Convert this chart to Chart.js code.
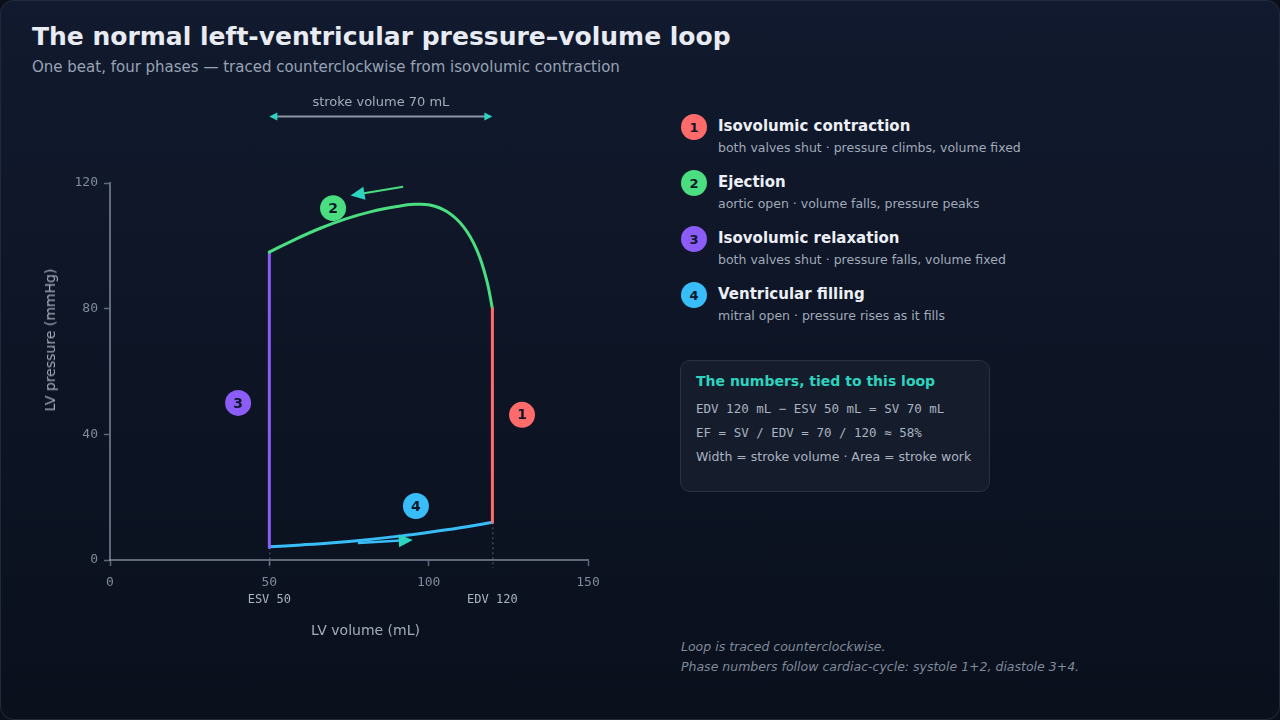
<!DOCTYPE html>
<html>
<head>
<meta charset="utf-8">
<script src="https://cdn.jsdelivr.net/npm/chart.js@4/dist/chart.umd.min.js"></script>
<style>
  html, body { margin: 0; padding: 0; }
  body {
    width: 1280px; height: 720px; overflow: hidden;
    background: #0a0f1a;
    font-family: "DejaVu Sans", sans-serif;
  }
  .panel {
    position: absolute; left: 0; top: 0; width: 1280px; height: 720px;
    box-shadow: inset 0 0 0 1px #1f2a3b; border-radius: 14px;
    background: linear-gradient(180deg, #111a2e 0%, #0d1424 55%, #0a101c 100%);
    overflow: hidden;
  }
  h1 { position: absolute; left: 32px; top: 22px; margin: 0; font-size: 25px; font-weight: bold; color: #e8ebf2; }
  .sub { position: absolute; left: 32px; top: 58px; font-size: 15px; color: #98a3b4; }
  #wrap { position: absolute; left: 0; top: 0; width: 640px; height: 720px; }
  .axt { position: absolute; font-size: 14px; color: #a3acb9; white-space: nowrap; }
  .legend { position: absolute; left: 681px; top: 113px; }
  .item { position: relative; height: 56px; }
  .dot { position: absolute; left: 0; top: 1px; width: 26px; height: 26px; border-radius: 50%;
         color: #0f172a; font-weight: bold; font-size: 13px; text-align: center; line-height: 27px; }
  .it { position: absolute; left: 37px; top: 4px; font-size: 15px; font-weight: bold; color: #eceff5; white-space: nowrap; }
  .is { position: absolute; left: 37px; top: 27px; font-size: 12.5px; color: #a0aab9; white-space: nowrap; }
  .box { position: absolute; left: 680px; top: 360px; width: 308px; height: 130px;
         border: 1px solid #283243; border-radius: 10px; background: #151c2b; }
  .bh { position: absolute; left: 15px; top: 12px; font-size: 14px; font-weight: bold; color: #2dd4bf; white-space: nowrap; }
  .bl { position: absolute; left: 15px; font-size: 12.5px; color: #aab3c1; white-space: nowrap; }
  .mono { font-family: "DejaVu Sans Mono", monospace; }
  .foot { position: absolute; left: 681px; font-size: 12.5px; font-style: italic; color: #7f8a9b; white-space: nowrap; }
</style>
</head>
<body>
<div class="panel">
  <h1>The normal left-ventricular pressure–volume loop</h1>
  <div class="sub">One beat, four phases — traced counterclockwise from isovolumic contraction</div>

  <div id="wrap"><canvas id="chart" width="640" height="720"></canvas></div>
  <div class="axt" style="left:311px; top:622px;">LV volume (mL)</div>
  <div class="axt" style="left:50px; top:340px; transform: translate(-50%,-50%) rotate(-90deg);">LV pressure (mmHg)</div>

  <div class="legend" id="legend"></div>

  <div class="box">
    <div class="bh">The numbers, tied to this loop</div>
    <div class="bl mono" style="top:40px;">EDV 120 mL − ESV 50 mL = SV 70 mL</div>
    <div class="bl mono" style="top:64px;">EF = SV / EDV = 70 / 120 ≈ 58%</div>
    <div class="bl" style="top:88px;">Width = stroke volume · Area = stroke work</div>
  </div>

  <div class="foot" style="top:639px;">Loop is traced counterclockwise.</div>
  <div class="foot" style="top:659px;">Phase numbers follow cardiac-cycle: systole 1+2, diastole 3+4.</div>
</div>

<script>
  // axis ticks
  const volumeTicks = [0, 50, 100, 150];
  const pressureTicks = [0, 40, 80, 120];

  // phase colours
  const phaseColors = ['#ff6b6b', '#4ade80', '#8b5cf6', '#38bdf8'];
  const arrowHead = '#2dd4bf';

  // phase 1: isovolumic contraction (volume fixed at EDV)
  const contractionVol = [120, 120];
  const contractionP = [12, 80];
  // phase 2: ejection
  const ejectionVol = [50, 58, 66, 74, 82, 90, 95.5, 100.4, 105.7, 110.9, 115.1, 118.2, 120];
  const ejectionP = [98, 102, 105.6, 108.6, 110.9, 112.5, 113.2, 113.0, 110.9, 106.1, 98.7, 89.1, 80];
  // phase 3: isovolumic relaxation (volume fixed at ESV)
  const relaxationVol = [50, 50];
  const relaxationP = [98, 4];
  // phase 4: filling
  const fillingVol = [50, 60, 70, 80, 91, 102, 112, 120];
  const fillingP = [4.2, 4.8, 5.5, 6.4, 7.6, 9.1, 10.6, 12];

  // numbered badges
  const badgeLabels = ['1', '2', '3', '4'];
  const badgeVol = [129.3, 70, 40.2, 96];
  const badgeP = [46.2, 112, 50, 17.2];

  // direction arrows [fromVol, fromP, toVol, toP]
  const ejectionArrow = [92, 118.8, 75.5, 116];
  const fillingArrow = [77.8, 5.4, 95, 6.4];

  // reference marks
  const esv = 50, edv = 120;
  const esvLabel = 'ESV 50', edvLabel = 'EDV 120';
  const strokeLabel = 'stroke volume 70 mL';
  const strokeArrowP = 141.3;

  // legend text
  const legendTitles = ['Isovolumic contraction', 'Ejection', 'Isovolumic relaxation', 'Ventricular filling'];
  const legendNotes = [
    'both valves shut · pressure climbs, volume fixed',
    'aortic open · volume falls, pressure peaks',
    'both valves shut · pressure falls, volume fixed',
    'mitral open · pressure rises as it fills'
  ];

  const legend = document.getElementById('legend');
  legendTitles.forEach((t, i) => {
    const div = document.createElement('div');
    div.className = 'item';
    div.innerHTML = '<div class="dot" style="background:' + phaseColors[i] + '">' + badgeLabels[i] + '</div>' +
      '<div class="it">' + t + '</div><div class="is">' + legendNotes[i] + '</div>';
    legend.appendChild(div);
  });

  const pts = (xs, ys) => xs.map((x, i) => ({ x: x, y: ys[i] }));

  function lineSet(xs, ys, color, tension) {
    return {
      type: 'line',
      data: pts(xs, ys),
      borderColor: color,
      borderWidth: 3,
      pointRadius: 0,
      fill: false,
      showLine: true,
      tension: tension,
      borderCapStyle: 'round'
    };
  }

  function arrow(ctx, x1, y1, x2, y2, shaft, head, lw) {
    const a = Math.atan2(y2 - y1, x2 - x1);
    const len = 14, w = 6.5;
    const bx = x2 - Math.cos(a) * len, by = y2 - Math.sin(a) * len;
    ctx.strokeStyle = shaft;
    ctx.lineWidth = lw;
    ctx.beginPath();
    ctx.moveTo(x1, y1);
    ctx.lineTo(bx + Math.cos(a) * 2, by + Math.sin(a) * 2);
    ctx.stroke();
    ctx.fillStyle = head;
    ctx.beginPath();
    ctx.moveTo(x2, y2);
    ctx.lineTo(bx + Math.sin(a) * w, by - Math.cos(a) * w);
    ctx.lineTo(bx - Math.sin(a) * w, by + Math.cos(a) * w);
    ctx.closePath();
    ctx.fill();
  }

  const loopExtras = {
    id: 'loopExtras',
    beforeDatasetsDraw(chart) {
      const { ctx, scales: { x, y } } = chart;
      ctx.save();
      // dotted drop lines from ESV / EDV to the axis
      ctx.strokeStyle = 'rgba(148,163,184,0.55)';
      ctx.lineWidth = 1;
      ctx.setLineDash([2, 3]);
      [[esv, relaxationP[1]], [edv, contractionP[0]]].forEach(([v, p]) => {
        ctx.beginPath();
        ctx.moveTo(x.getPixelForValue(v) + 0.5, y.getPixelForValue(p));
        ctx.lineTo(x.getPixelForValue(v) + 0.5, y.getPixelForValue(0) + 8);
        ctx.stroke();
      });
      ctx.restore();
    },
    afterDatasetsDraw(chart) {
      const { ctx, scales: { x, y } } = chart;
      ctx.save();
      // phase arrows
      arrow(ctx, x.getPixelForValue(ejectionArrow[0]), y.getPixelForValue(ejectionArrow[1]),
        x.getPixelForValue(ejectionArrow[2]), y.getPixelForValue(ejectionArrow[3]), phaseColors[1], arrowHead, 2);
      arrow(ctx, x.getPixelForValue(fillingArrow[0]), y.getPixelForValue(fillingArrow[1]),
        x.getPixelForValue(fillingArrow[2]), y.getPixelForValue(fillingArrow[3]), phaseColors[3], arrowHead, 2.5);

      // badge numbers
      const meta = chart.getDatasetMeta(4);
      ctx.fillStyle = '#0f172a';
      ctx.font = 'bold 14px "DejaVu Sans"';
      ctx.textAlign = 'center';
      ctx.textBaseline = 'middle';
      meta.data.forEach((el, i) => ctx.fillText(badgeLabels[i], el.x, el.y + 1));

      // stroke volume bracket
      const sy = Math.round(y.getPixelForValue(strokeArrowP)) + 0.5;
      const sx1 = x.getPixelForValue(esv), sx2 = x.getPixelForValue(edv);
      ctx.strokeStyle = '#8a95a6';
      ctx.lineWidth = 2;
      ctx.beginPath();
      ctx.moveTo(sx1 + 6, sy);
      ctx.lineTo(sx2 - 6, sy);
      ctx.stroke();
      ctx.fillStyle = arrowHead;
      [[sx1, 1], [sx2, -1]].forEach(([px, d]) => {
        ctx.beginPath();
        ctx.moveTo(px, sy);
        ctx.lineTo(px + d * 8, sy - 4);
        ctx.lineTo(px + d * 8, sy + 4);
        ctx.closePath();
        ctx.fill();
      });
      ctx.fillStyle = '#a3acb9';
      ctx.font = '13px "DejaVu Sans"';
      ctx.textBaseline = 'middle';
      ctx.fillText(strokeLabel, (sx1 + sx2) / 2, sy - 14);

      // ESV / EDV tags under the axis
      ctx.fillStyle = '#aab3c1';
      ctx.font = '12px "DejaVu Sans Mono"';
      ctx.fillText(esvLabel, x.getPixelForValue(esv), 600);
      ctx.fillText(edvLabel, x.getPixelForValue(edv), 600);
      ctx.restore();
    }
  };

  const axisColor = 'rgba(148,163,184,0.6)';
  const tickFont = { family: 'DejaVu Sans Mono', size: 13 };

  new Chart(document.getElementById('chart'), {
    type: 'scatter',
    data: {
      datasets: [
        lineSet(contractionVol, contractionP, phaseColors[0], 0),
        lineSet(ejectionVol, ejectionP, phaseColors[1], 0.4),
        lineSet(relaxationVol, relaxationP, phaseColors[2], 0),
        lineSet(fillingVol, fillingP, phaseColors[3], 0.4),
        {
          type: 'scatter',
          data: pts(badgeVol, badgeP),
          pointRadius: 13,
          pointBackgroundColor: phaseColors,
          pointBorderWidth: 0,
          clip: false
        }
      ]
    },
    options: {
      responsive: false,
      animation: false,
      events: [],
      layout: { padding: { left: 40, right: 52, top: 183, bottom: 100 } },
      plugins: { legend: { display: false }, tooltip: { enabled: false } },
      scales: {
        x: {
          type: 'linear',
          min: volumeTicks[0],
          max: volumeTicks[volumeTicks.length - 1],
          afterBuildTicks: (s) => { s.ticks = volumeTicks.map(v => ({ value: v })); },
          afterFit: (s) => { s.height = 60; },
          ticks: { color: '#7f8a9c', font: tickFont, padding: 9, maxRotation: 0 },
          grid: { drawOnChartArea: false, color: axisColor, tickLength: 6, tickWidth: 1.5 },
          border: { color: axisColor, width: 2 }
        },
        y: {
          type: 'linear',
          min: pressureTicks[0],
          max: pressureTicks[pressureTicks.length - 1],
          afterBuildTicks: (s) => { s.ticks = pressureTicks.map(v => ({ value: v })); },
          afterFit: (s) => { s.width = 70; },
          ticks: { color: '#7f8a9c', font: tickFont, padding: 6 },
          grid: { drawOnChartArea: false, color: axisColor, tickLength: 6, tickWidth: 1.5 },
          border: { color: axisColor, width: 2 }
        }
      }
    },
    plugins: [loopExtras]
  });
</script>
</body>
</html>
